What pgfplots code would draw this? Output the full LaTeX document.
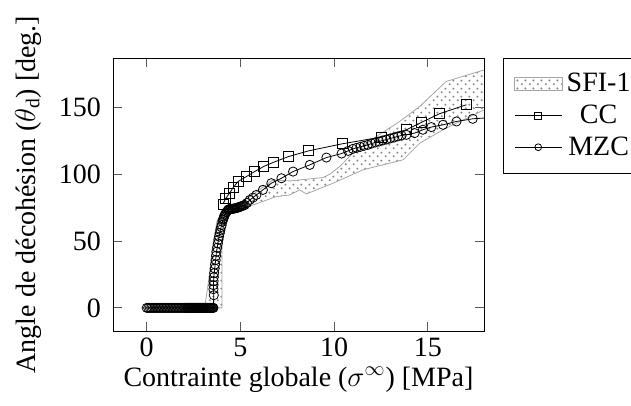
\documentclass[border=0pt]{standalone}
\usepackage{pgfplots}
\pgfplotsset{compat=1.18}
\usepackage{fontspec}
\setmainfont{Liberation Serif}
\usetikzlibrary{patterns.meta,calc}
\tikzdeclarepattern{
  name=mydots,
  type=uncolored,
  bottom left={(0pt,0pt)},
  top right={(4pt,4pt)},
  tile size={(4pt,4pt)},
  code={\fill (1pt,1pt) circle (0.62pt); \fill (3pt,3pt) circle (0.62pt);}
}
\pgfplotsset{
  myarea/.style={legend image code/.code={\draw[##1] (0pt,-3.2pt) rectangle (23.8pt,3.2pt);}},
  myline/.style={legend image code/.code={\draw[##1, mark size=1.7pt, mark repeat=2, mark phase=2] plot coordinates {(0pt,0pt)(11.75pt,0pt)(23.5pt,0pt)};}},
}
\begin{document}
\begin{tikzpicture}[font=\fontsize{14}{16}\selectfont]
\begin{axis}[
  scale only axis,
  width=185.5pt, height=136.5pt,
  xmin=-1.8, xmax=18, ymin=-17.3, ymax=187,
  xtick={0,5,10,15}, ytick={0,50,100,150},
  /pgf/number format/assume math mode=true,
  xlabel={Contrainte globale ($\sigma^{\infty}$) [MPa]},
  ylabel={Angle de décohésion ($\theta_\mathrm{d}$) [deg.]},
  xlabel style={yshift=2pt},
  ylabel style={yshift=2pt},
  yticklabel style={xshift=-2.5pt},
  tick style={gray!70!black, thin},
  legend style={at={(1.051,1)}, anchor=north west, draw=black, inner sep=5.5pt, row sep=1pt, font=\fontsize{14}{16}\selectfont},
  legend cell align=center,
  clip=true,
]
\addplot[draw=gray!70, thin, pattern={mydots}, pattern color=gray!90, myarea] coordinates {
(3.09,0)(3.3,20)(3.5,45)(3.75,65)(4.1,74)(4.6,76.5)(5.0,79)(5.76,85.8)(6.74,95.8)(7.63,95)(9.4,97.5)(9.77,100)(10.3,105.8)(11.0,115.8)(12.26,128.3)(13.5,139.5)(14.57,150.8)(15.99,169.5)(17.95,177.8)(18.5,180)
(18.5,150)(17.95,147.8)(15.99,134.6)(14.57,123.3)(13.68,110.8)(12.97,108.3)(11.54,103.3)(9.94,93.3)(8.52,85.3)(8.16,88.3)(7.63,84.5)(6.92,83.3)(5.67,77)(4.6,73)(4.25,70.8)(4.02,58)(4.02,30)(4.02,0)(3.09,0)
} -- cycle;
\addlegendentry{SFI-1}
\addplot[black, thin, mark=square, mark size=2.5pt, myline] coordinates {
(4.07,77.8)(4.22,82)(4.43,86)(4.61,90)(4.87,94.5)(5.32,98.3)(5.76,102)(6.24,105.8)(6.74,108.8)(7.58,113.3)(8.64,117.5)(10.44,122.8)(12.52,127.8)(13.86,133.3)(14.66,138.8)(15.63,145.3)(17.06,152)
};
\addlegendentry{CC}
\addplot[black, thin, mark=o, mark size=2.3pt, myline] coordinates {
(0,0)(0.08,0)(0.16,0)(0.24,0)(0.32,0)(0.4,0)(0.48,0)(0.56,0)(0.64,0)(0.72,0)(0.8,0)(0.88,0)(0.96,0)(1.04,0)(1.12,0)(1.2,0)(1.28,0)(1.36,0)(1.44,0)(1.52,0)(1.6,0)(1.68,0)(1.76,0)(1.84,0)(1.92,0)(2.0,0)(2.06,0)(2.12,0)(2.18,0)
(2.22,0)(2.26,0)(2.3,0)(2.34,0)(2.38,0)(2.42,0)(2.46,0)(2.5,0)(2.54,0)(2.58,0)(2.62,0)(2.66,0)(2.7,0)(2.74,0)(2.78,0)(2.82,0)(2.86,0)(2.9,0)(2.94,0)(2.98,0)(3.02,0)(3.06,0)(3.1,0)(3.14,0)(3.18,0)(3.22,0)(3.26,0)(3.3,0)(3.34,0)(3.38,0)(3.42,0)(3.46,0)(3.5,0)(3.54,0)(3.56,0)
(3.58,9.5)(3.56,14)(3.56,17)(3.57,20)(3.58,23)(3.6,26)(3.63,29.5)(3.65,32.5)(3.68,35.8)(3.7,39)(3.72,42)(3.76,45)(3.8,48.3)(3.83,51)(3.86,53.3)(3.9,56)(3.93,58.3)(3.97,60.5)(4.0,62)(4.04,64.5)(4.07,66)(4.1,67)(4.13,68.5)(4.16,69.5)(4.2,70.5)(4.25,71.5)(4.3,72.5)(4.34,73.3)(4.37,73.6)(4.4,73.8)(4.45,73.9)(4.5,74)(4.55,74.1)(4.6,74.2)(4.65,74.3)(4.7,74.5)(4.75,74.6)(4.8,74.8)(4.85,75)(4.9,75.2)(4.95,75.5)(5.0,75.8)(5.05,76)(5.1,76.3)(5.16,76.6)(5.23,77)(5.35,78.5)(5.5,80.8)(5.67,82.5)(5.85,84.5)(6.2,88.3)(6.65,93.3)(7.19,97)(7.81,102)(8.7,107)(9.59,112.5)(10.4,115.5)(10.75,117.5)(11.0,119)(11.2,119.8)(11.4,120.5)(11.6,121.3)(11.8,122)(12.0,123)(12.2,123.8)(12.4,124.5)(12.6,125.3)(12.8,126)(13.0,126.8)(13.2,127.5)(13.4,128.3)(13.6,129)(13.86,129.5)(14.3,130.8)(14.74,133.3)(15.19,135.3)(15.81,137)(16.53,139.5)(17.4,141.5)(18.5,142.5)
};
\addlegendentry{MZC}
\end{axis}
\pgfresetboundingbox
\path[use as bounding box] ($(current axis.south west)+(-56.5pt,-37.5pt)$) rectangle ($(current axis.north east)+(73.5pt,29pt)$);
\end{tikzpicture}
\end{document}
